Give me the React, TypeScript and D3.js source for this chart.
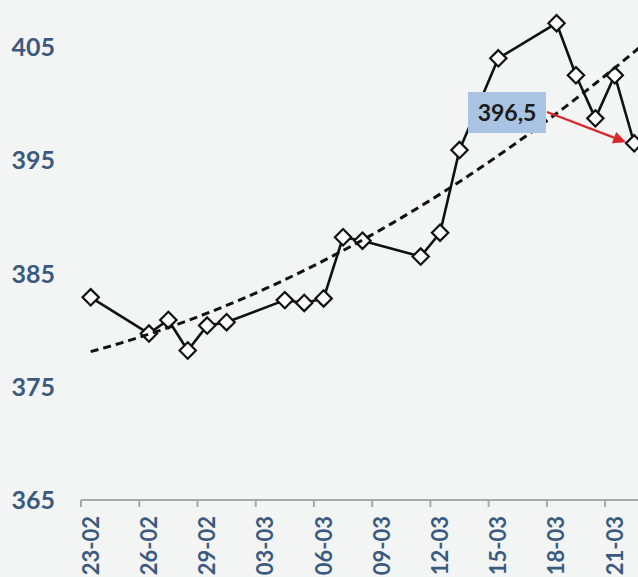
import React from "react";
import * as d3 from "d3";

const DATES = [
  "2012-02-23", "2012-02-26", "2012-02-27", "2012-02-28", "2012-02-29",
  "2012-03-01", "2012-03-04", "2012-03-05", "2012-03-06", "2012-03-07",
  "2012-03-08", "2012-03-11", "2012-03-12", "2012-03-13", "2012-03-15",
  "2012-03-18", "2012-03-19", "2012-03-20", "2012-03-21", "2012-03-22",
];
const VALUES = [
  382.9, 379.7, 380.9, 378.2, 380.4,
  380.7, 382.65, 382.4, 382.8, 388.2,
  387.9, 386.5, 388.6, 395.9, 404.0,
  407.1, 402.5, 398.7, 402.5, 396.5,
];
const X_TICK_DATES = [
  "2012-02-23", "2012-02-26", "2012-02-29", "2012-03-03", "2012-03-06",
  "2012-03-09", "2012-03-12", "2012-03-15", "2012-03-18", "2012-03-21",
];
const Y_TICKS = [365, 375, 385, 395, 405];
// polynomial (order 2) trend: v = a + b*d + c*d^2, d = days from 23-02
const TREND_COEFFS = [378.1, 0.462, 0.01726];
const CALLOUT_TEXT = "396,5";

const W = 638;
const H = 577;
const parse = (s: string) => new Date(s + "T00:00:00Z");
const fmt = d3.utcFormat("%d-%m");
const START = parse("2012-02-23");

export default function App() {
  const x = d3
    .scaleUtc()
    .domain([START, d3.utcDay.offset(START, 30)])
    .range([81, 81 + 30 * 19.41]);
  const y = d3.scaleLinear().domain([365, 405]).range([500, 47]);
  const mid = (d: Date) => d3.utcHour.offset(d, 12);

  const pts = DATES.map((s, i) => [x(mid(parse(s))), y(VALUES[i])] as [number, number]);
  const line = d3.line()(pts) as string;

  const trendPts: [number, number][] = [];
  for (let d = 0; d <= 30; d += 0.5) {
    const v = TREND_COEFFS[0] + TREND_COEFFS[1] * d + TREND_COEFFS[2] * d * d;
    trendPts.push([x(d3.utcHour.offset(START, 12 + d * 24)), y(v)]);
  }
  const trend = d3.line().curve(d3.curveLinear)(trendPts) as string;

  const diamond = d3.symbol().type(d3.symbolDiamond2).size(170)() as string;

  const last = pts[pts.length - 1];
  const boxX = 468, boxY = 92, boxW = 78, boxH = 41;
  const arrowStart: [number, number] = [boxX + boxW + 1, boxY + 20];
  const arrowEnd: [number, number] = [last[0] - 8, last[1] - 1];
  const ang = Math.atan2(arrowEnd[1] - arrowStart[1], arrowEnd[0] - arrowStart[0]);
  const ah = 13, aw = 6;
  const headBase: [number, number] = [arrowEnd[0] - ah * Math.cos(ang), arrowEnd[1] - ah * Math.sin(ang)];
  const head = [
    arrowEnd,
    [headBase[0] + aw * Math.sin(ang), headBase[1] - aw * Math.cos(ang)],
    [headBase[0] - aw * Math.sin(ang), headBase[1] + aw * Math.cos(ang)],
  ];

  const labelColor = "#3b5a7f";
  const font = "Lato, 'Open Sans', sans-serif";

  return (
    <svg
      width={W}
      height={H}
      style={{ position: "absolute", left: 0, top: 0, display: "block" }}
      fontFamily={font}
    >
      <rect x={0} y={0} width={W} height={H} fill="#f3f5f5" />

      {/* y labels */}
      {Y_TICKS.map((t) => (
        <text
          key={t}
          x={55}
          y={y(t)}
          dy="0.36em"
          textAnchor="end"
          fontSize={25}
          fontWeight="bold"
          fill={labelColor}
        >
          {t}
        </text>
      ))}

      {/* x axis */}
      <line x1={81} x2={W} y1={500} y2={500} stroke="#a9a9a9" strokeWidth={2} />
      {X_TICK_DATES.map((s) => {
        const xx = x(parse(s));
        return <line key={s} x1={xx} x2={xx} y1={500} y2={507} stroke="#a9a9a9" strokeWidth={2} />;
      })}
      {X_TICK_DATES.map((s) => {
        const xx = x(mid(parse(s)));
        return (
          <text
            key={"l" + s}
            transform={`translate(${xx},516) rotate(-90)`}
            dy="0.36em"
            textAnchor="end"
            fontSize={22}
            fontWeight="bold"
            fill={labelColor}
          >
            {fmt(parse(s))}
          </text>
        );
      })}

      {/* data line */}
      <path d={line} fill="none" stroke="#111" strokeWidth={2.6} strokeLinejoin="round" />
      {pts.map((p, i) => (
        <path
          key={i}
          d={diamond}
          transform={`translate(${p[0]},${p[1]})`}
          fill="#fff"
          stroke="#111"
          strokeWidth={2.2}
        />
      ))}

      {/* trend line */}
      <path d={trend} fill="none" stroke="#111" strokeWidth={3} strokeDasharray="8,5" />

      {/* callout */}
      <rect x={boxX} y={boxY} width={boxW} height={boxH} fill="#a8c4e2" />
      <text
        x={boxX + boxW / 2}
        y={boxY + boxH / 2}
        dy="0.36em"
        textAnchor="middle"
        fontSize={23}
        fontWeight="bold"
        fill="#1b1b1b"
      >
        {CALLOUT_TEXT}
      </text>
      <line
        x1={arrowStart[0]}
        y1={arrowStart[1]}
        x2={headBase[0]}
        y2={headBase[1]}
        stroke="#d8262c"
        strokeWidth={2.2}
      />
      <polygon points={head.map((p) => p.join(",")).join(" ")} fill="#d8262c" />
    </svg>
  );
}
